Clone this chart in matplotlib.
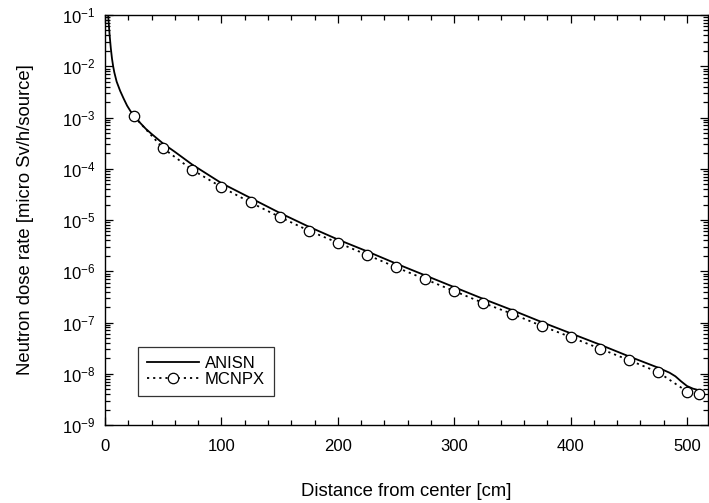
import matplotlib
matplotlib.use("Agg")
import matplotlib.pyplot as plt
import numpy as np
from matplotlib.ticker import LogLocator, MultipleLocator, NullFormatter

plt.rcParams["font.family"] = ["Liberation Sans", "DejaVu Sans"]
plt.rcParams["axes.unicode_minus"] = False

# ANISN calculation (solid line), log10 of dose rate
anisn_x = [0.3, 1, 2, 3, 4, 5, 6, 7, 8, 10, 13, 16, 19, 22, 25, 30, 35, 40, 50,
           60, 75, 100, 125, 150, 175, 200, 225, 250, 275, 300, 325, 350, 375,
           400, 425, 450, 475, 480, 485, 490, 495, 500, 505, 510]
anisn_log = [0.2, -0.3, -0.75, -1.1, -1.4, -1.65, -1.85, -2.0, -2.12, -2.3,
             -2.48, -2.63, -2.77, -2.88, -2.96, -3.1, -3.22, -3.32, -3.51,
             -3.67, -3.92, -4.28, -4.57, -4.86, -5.13, -5.38, -5.61, -5.85,
             -6.08, -6.31, -6.54, -6.76, -6.99, -7.21, -7.43, -7.66, -7.88,
             -7.93, -7.98, -8.05, -8.15, -8.24, -8.29, -8.32]

# MCNPX calculation (circles)
mcnpx_x = [25, 50, 75, 100, 125, 150, 175, 200, 225, 250, 275, 300, 325, 350,
           375, 400, 425, 450, 475, 500, 510]
mcnpx_y = [1.05e-3, 2.5e-4, 9.5e-5, 4.4e-5, 2.2e-5, 1.15e-5, 6.2e-6, 3.6e-6,
           2.1e-6, 1.2e-6, 7.0e-7, 4.1e-7, 2.4e-7, 1.47e-7, 8.6e-8, 5.2e-8,
           3.1e-8, 1.85e-8, 1.08e-8, 4.5e-9, 4.1e-9]

fig = plt.figure(figsize=(7.09, 5.03), dpi=100)
ax = fig.add_axes([105 / 709, 1 - 425 / 503, 603 / 709, 410 / 503])

ax.plot(anisn_x, 10.0 ** np.array(anisn_log), color="black", lw=1.3,
        label="ANISN")
ax.plot(mcnpx_x, mcnpx_y, color="black", lw=1.3, ls=(0, (1.2, 2.2)),
        marker="o", ms=7.5, mfc="white", mec="black", mew=0.9, label="MCNPX")

ax.set_yscale("log")
ax.set_xlim(0, 518)
ax.set_ylim(1e-9, 1e-1)

ax.xaxis.set_major_locator(MultipleLocator(100))
ax.xaxis.set_minor_locator(MultipleLocator(20))
ax.yaxis.set_major_locator(LogLocator(base=10, numticks=20))
ax.yaxis.set_minor_locator(LogLocator(base=10, subs=np.arange(2, 10), numticks=20))
ax.yaxis.set_minor_formatter(NullFormatter())

ax.tick_params(which="both", direction="in", top=True, right=True,
               width=0.9, colors="black", labelsize=12)
ax.tick_params(which="major", length=6)
ax.tick_params(which="minor", length=3.5)
ax.tick_params(axis="x", pad=10)
ax.tick_params(axis="y", pad=7)
for s in ax.spines.values():
    s.set_linewidth(1.0)

ax.set_xlabel("Distance from center [cm]", fontsize=13.3)
ax.set_ylabel("Neutron dose rate [micro Sv/h/source]", fontsize=13.3)
ax.xaxis.set_label_coords(0.5, -0.142)
ax.yaxis.set_label_coords(-0.117, 0.5)

leg = ax.legend(loc="lower left", bbox_to_anchor=(0.055, 0.07), fontsize=12,
                frameon=True, fancybox=False, handlelength=3.1,
                borderpad=0.55, labelspacing=0.05, handletextpad=0.35,
                borderaxespad=0)
leg.get_frame().set_edgecolor("black")
leg.get_frame().set_linewidth(0.9)

fig.savefig("out.png", dpi=100)
